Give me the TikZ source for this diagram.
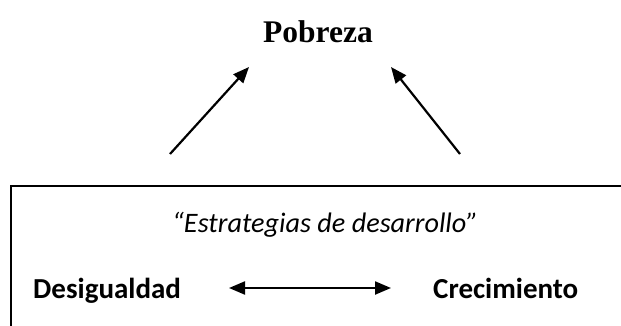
\documentclass[tikz,border=0pt]{standalone}
\usepackage{fontspec}
\setmainfont{Liberation Serif}
\newfontfamily\calib{Carlito}
\usetikzlibrary{arrows.meta}
\begin{document}
\begin{tikzpicture}[x=1pt,y=-1pt,
  arr/.style={line width=2.2pt,-{Triangle[length=16pt,width=13pt]}},
  darr/.style={line width=2.2pt,{Triangle[length=16pt,width=13pt]}-{Triangle[length=16pt,width=13pt]}},
  sanslabel/.style={inner sep=0pt,font=\calib\bfseries\fontsize{29}{31}\selectfont},
  frame/.style={draw,line width=2.2pt,inner sep=0pt,anchor=north west}]
\useasboundingbox (0,0) rectangle (621,325);
\clip (0,0) rectangle (621,325);
\node[frame,minimum width=640pt,minimum height=160pt] (box) at (10,185) {};
\node[inner sep=0pt,anchor=base,font=\bfseries\fontsize{31.5}{34}\selectfont] (pob) at (318,42) {Pobreza};
\node[inner sep=0pt,anchor=base west,font=\calib\itshape\fontsize{28.2}{30}\selectfont] (est) at (172,232) {“Estrategias de desarrollo”};
\node[sanslabel,anchor=base west] (des) at (33,298) {Desigualdad};
\node[sanslabel,anchor=base west] (cre) at (433,298) {Crecimiento};
\coordinate (l0) at (170,154);
\coordinate (l1) at (249,67);
\coordinate (r0) at (460,154);
\coordinate (r1) at (391,67);
\coordinate (d0) at (229,288);
\coordinate (d1) at (391,288);
\draw[arr] (l0) -- (l1);
\draw[arr] (r0) -- (r1);
\draw[darr] (d0) -- (d1);
\end{tikzpicture}
\end{document}
